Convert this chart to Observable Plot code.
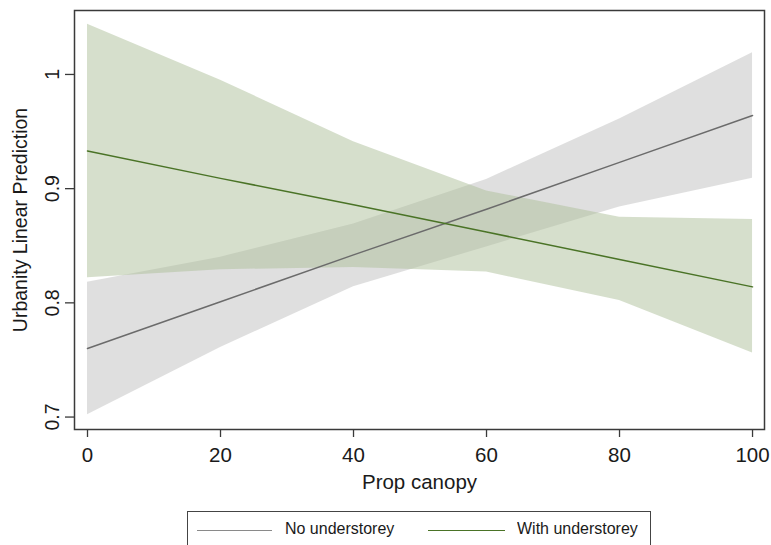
<!DOCTYPE html>
<html>
<head>
<meta charset="utf-8">
<script src="https://cdn.jsdelivr.net/npm/d3@7"></script>
<script src="https://cdn.jsdelivr.net/npm/@observablehq/plot@0.6"></script>
<style>
  html, body { margin: 0; padding: 0; background: #fff; }
  #wrap { position: relative; width: 771px; height: 545px; overflow: hidden; }
  #legend { position: absolute; left: 187px; top: 511px; width: 464px; height: 42px; border: 1.5px solid #444; box-sizing: border-box; }
  .sw { position: absolute; top: 18px; height: 0; border-top: 1.5px solid; }
  .lt { position: absolute; top: 7px; font: 17px "Liberation Sans", Arial, sans-serif; color: #1a1a1a; white-space: nowrap; transform: scaleX(0.94); transform-origin: 0 50%; }
</style>
</head>
<body>
<div id="wrap"></div>
<script>
// Prop canopy values
const canopy = [0, 20, 40, 60, 80, 100];
// No understorey: fitted, lower CI, upper CI
const noFit = [0.760, 0.801, 0.842, 0.882, 0.923, 0.964];
const noLo  = [0.702, 0.761, 0.814, 0.849, 0.884, 0.909];
const noHi  = [0.818, 0.840, 0.869, 0.908, 0.961, 1.019];
// With understorey: fitted, lower CI, upper CI
const withFit = [0.933, 0.909, 0.886, 0.862, 0.838, 0.814];
const withLo  = [0.822, 0.829, 0.831, 0.827, 0.802, 0.756];
const withHi  = [1.044, 0.995, 0.941, 0.898, 0.875, 0.873];
const seriesNames = ["No understorey", "With understorey"];
const xTicks = [0, 20, 40, 60, 80, 100];
const yTicks = [0.7, 0.8, 0.9, 1];

const noData = canopy.map((x, i) => ({x, fit: noFit[i], lo: noLo[i], hi: noHi[i]}));
const withData = canopy.map((x, i) => ({x, fit: withFit[i], lo: withLo[i], hi: withHi[i]}));

const grayLine = "#6b6b6b";
const greenLine = "#4a7326";

const chart = Plot.plot({
  width: 771,
  height: 505,
  marginTop: 10,
  marginLeft: 74,
  marginRight: 7,
  marginBottom: 76,
  style: {fontFamily: '"Liberation Sans", Arial, sans-serif', fontSize: "20px", color: "#1a1a1a", background: "#fff"},
  x: {domain: [-1.955, 101.8]},
  y: {domain: [0.6891, 1.056]},
  marks: [
    Plot.areaY(noData, {x: "x", y1: "lo", y2: "hi", fill: "#c0c0c0", fillOpacity: 0.5}),
    Plot.areaY(withData, {x: "x", y1: "lo", y2: "hi", fill: "#adbf99", fillOpacity: 0.5}),
    Plot.lineY(noData, {x: "x", y: "fit", stroke: grayLine, strokeWidth: 1.5}),
    Plot.lineY(withData, {x: "x", y: "fit", stroke: greenLine, strokeWidth: 1.5}),
    Plot.frame({stroke: "#3a3a3a", strokeWidth: 1.5}),
    Plot.axisX({ticks: xTicks, tickSize: 8, tickPadding: 10, stroke: "#3a3a3a", strokeWidth: 1.3,
      label: "Prop canopy", labelAnchor: "center", labelArrow: "none", labelOffset: 59, fontSize: 20.5}),
    Plot.axisY({ticks: yTicks, tickSize: 9, tickPadding: 7, stroke: "#3a3a3a", strokeWidth: 1.3,
      tickFormat: d => String(d), tickRotate: -90, textAnchor: "middle", lineAnchor: "bottom",
      fontSize: 19.5, label: null}),
    Plot.axisY({ticks: [], tickSize: 0, label: "Urbanity Linear Prediction", labelAnchor: "center", labelArrow: "none",
      labelOffset: 61, fontSize: 19.5})
  ]
});

const wrap = document.getElementById("wrap");
wrap.appendChild(chart);

const legend = document.createElement("div");
legend.id = "legend";
const items = [
  {name: seriesNames[0], color: "#8a8a8a", x0: 9, x1: 84, tx: 97},
  {name: seriesNames[1], color: greenLine, x0: 240, x1: 317, tx: 329}
];
for (const it of items) {
  const sw = document.createElement("div");
  sw.className = "sw";
  sw.style.left = it.x0 + "px";
  sw.style.width = (it.x1 - it.x0) + "px";
  sw.style.borderTopColor = it.color;
  legend.appendChild(sw);
  const t = document.createElement("div");
  t.className = "lt";
  t.style.left = it.tx + "px";
  t.textContent = it.name;
  legend.appendChild(t);
}
wrap.appendChild(legend);
</script>
</body>
</html>
